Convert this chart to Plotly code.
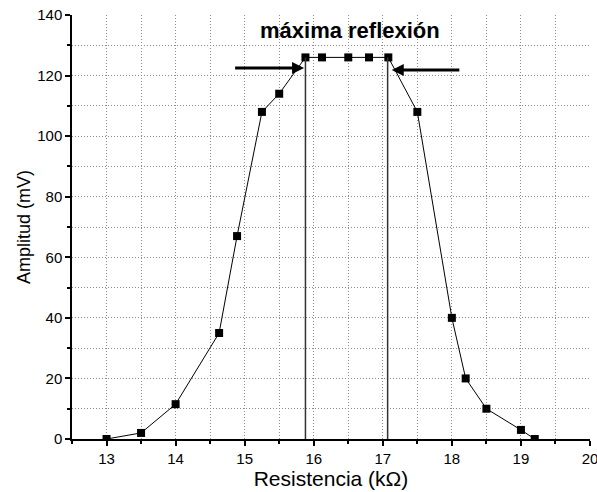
import plotly.graph_objects as go

# Data
resistencia = [13.0, 13.5, 14.0, 14.63, 14.89, 15.25, 15.5, 15.88, 16.12, 16.5, 16.8, 17.08, 17.5, 18.0, 18.2, 18.5, 19.0, 19.2]
amplitud = [0, 2, 11.5, 35, 67, 108, 114, 126, 126, 126, 126, 126, 108, 40, 20, 10, 3, 0]

vlines_x = [15.88, 17.07]
vlines_top = 126

arrow_left = dict(tail=(14.84, 122.5), head=(15.86, 122.5))
arrow_right = dict(tail=(18.13, 121.8), head=(17.13, 121.8))

title_text = "máxima reflexión"
title_pos = (16.52, 134.8)

x_range = [12.5, 20]
y_range = [0, 140]

FONT = "Liberation Sans, Arial"
GRID = dict(showgrid=True, gridcolor="#8c8c8c", griddash="1px,2px", gridwidth=1)

fig = go.Figure()

fig.add_trace(go.Scatter(
    x=resistencia, y=amplitud, mode="lines+markers",
    line=dict(color="black", width=1),
    marker=dict(symbol="square", size=8, color="black"),
    showlegend=False,
))

for vx in vlines_x:
    fig.add_shape(type="line", x0=vx, x1=vx, y0=0, y1=vlines_top,
                  xref="x", yref="y", line=dict(color="#333333", width=1.5))

for a in (arrow_left, arrow_right):
    fig.add_annotation(
        x=a["head"][0], y=a["head"][1], ax=a["tail"][0], ay=a["tail"][1],
        xref="x", yref="y", axref="x", ayref="y",
        showarrow=True, arrowhead=2, arrowsize=0.8, arrowwidth=3,
        arrowcolor="black", text="",
    )

fig.add_annotation(
    x=title_pos[0], y=title_pos[1], xref="x", yref="y",
    text="<b>" + title_text + "</b>", showarrow=False,
    font=dict(family=FONT, size=22, color="black"),
)

axis_common = dict(
    showline=True, linecolor="black", linewidth=1.5, mirror=False,
    ticks="outside", ticklen=5, tickwidth=1.5, tickcolor="black",
    zeroline=False, automargin=False, ticklabeloverflow="allow",
    tickfont=dict(family=FONT, size=15, color="black"),
    **GRID,
)

fig.update_xaxes(
    range=x_range, dtick=1, tick0=13,
    minor=dict(dtick=0.5, ticks="outside", ticklen=3, tickcolor="black", **GRID),
    title=dict(text="Resistencia (kΩ)", font=dict(family=FONT, size=21, color="black"), standoff=2),
    **axis_common,
)
fig.update_yaxes(
    range=y_range, dtick=20, tick0=0,
    minor=dict(dtick=10, ticks="outside", ticklen=3, tickcolor="black", **GRID),
    title=dict(text="Amplitud (mV)", font=dict(family=FONT, size=18, color="black"), standoff=2),
    **axis_common,
)

fig.update_layout(
    width=597, height=492,
    margin=dict(l=72, r=7, t=15, b=53),
    plot_bgcolor="white", paper_bgcolor="white",
    font=dict(family=FONT, color="black"),
)

fig.write_html(
    "out.html",
    config={"displayModeBar": False},
    post_script="document.body.style.margin='0';document.body.style.overflow='hidden';",
)
